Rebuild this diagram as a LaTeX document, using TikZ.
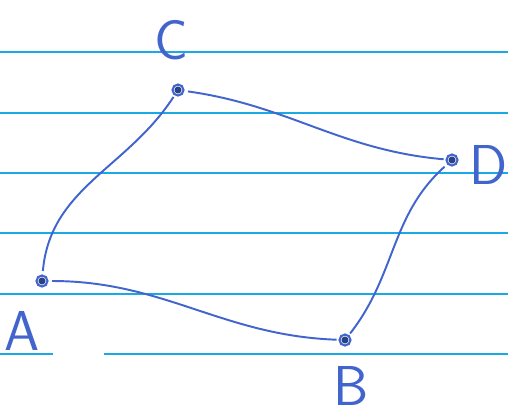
\documentclass[tikz,border=0pt]{standalone}
\usepackage{fontspec}
\usepackage{tikz}
\usetikzlibrary{graphs}
\definecolor{InkBlue}{RGB}{65,100,205}
\definecolor{RuleBlue}{RGB}{25,170,230}
\tikzset{>=latex}
\tikzset{dotnodes/.style={circle,draw=InkBlue,line width=1.2pt,fill=white,inner sep=0pt,minimum size=0.22cm,
    path picture={\fill[InkBlue!65!black] (path picture bounding box.center) circle (2pt);}}}
\tikzset{myedges/.style={InkBlue,line width=1.1pt,shorten <=2pt,shorten >=1pt}}
\tikzset{letters/.style={InkBlue,font=\sffamily\fontsize{32}{38}\selectfont,inner sep=0pt}}
\tikzset{rules/.style={RuleBlue,line width=1.2pt}}
\tikzset{graphs/mygraph/.style={nodes={dotnodes}, empty nodes}}

\begin{document}
\begin{tikzpicture}[x=0.02cm,y=0.02cm]

        \useasboundingbox[fill=white] (0,0) rectangle (508,-414);
        \foreach \y in {52,113,173,233,294} {
            \draw[rules] (0,-\y) -- (508,-\y);
        }
        \draw[rules] (0,-354) -- (53,-354);
        \draw[rules] (104,-354) -- (508,-354);

        \graph[no placement, mygraph]{
            C[at={(178,-90)}];
            D[at={(452,-160)}];
            A[at={(42,-281)}];
            B[at={(345,-340)}];
        };
        \foreach \i/\j/\o/\n in {
            C/D/-8/175,
            A/C/85/237,
            A/B/0/178,
            D/B/222/52
        } {
            \path[myedges] (\i) edge[out=\o, in=\n] (\j);
        }

        \node[letters] (labC) at (171,-40) {C};
        \node[letters] (labD) at (489,-165) {D};
        \node[letters] (labA) at (22,-331) {A};
        \node[letters] (labB) at (351,-386) {B};
    \end{tikzpicture}
\end{document}
